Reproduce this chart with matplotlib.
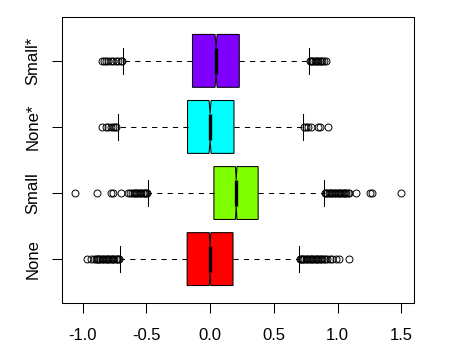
import numpy as np
import matplotlib.pyplot as plt

plt.rcParams['font.family'] = ['Liberation Sans', 'DejaVu Sans']

# groups bottom to top
labels = ['None', 'Small', 'None*', 'Small*']
colors = ['#FF0000', '#80FF00', '#00FFFF', '#8000FF']

# box statistics
q1 = [-0.18, 0.03, -0.177, -0.138]
med = [0.0, 0.205, 0.0, 0.047]
q3 = [0.18, 0.377, 0.1875, 0.229]
whislo = [-0.71, -0.487, -0.724, -0.685]
whishi = [0.70, 0.893, 0.729, 0.773]
notch_half = [0.006, 0.006, 0.008, 0.008]

fliers_none = [-0.969, -0.938, -0.911, -0.898, -0.89, -0.88, -0.87, -0.86, -0.85,
               -0.84, -0.83, -0.82, -0.81, -0.80, -0.79, -0.78, -0.77, -0.76,
               -0.75, -0.74, -0.73, -0.72, -0.715,
               0.705, 0.71, 0.72, 0.73, 0.74, 0.75, 0.76, 0.77, 0.78, 0.79, 0.80,
               0.81, 0.82, 0.83, 0.84, 0.85, 0.86, 0.87, 0.88, 0.89, 0.90, 0.92,
               0.94, 0.96, 0.99, 1.01, 1.09]
fliers_small = [-1.06, -0.885, -0.78, -0.76, -0.70, -0.64, -0.625, -0.61, -0.60,
                -0.59, -0.58, -0.57, -0.56, -0.55, -0.54, -0.53, -0.52, -0.51,
                -0.50, -0.495,
                0.90, 0.91, 0.92, 0.93, 0.94, 0.95, 0.96, 0.97, 0.98, 0.99, 1.00,
                1.01, 1.02, 1.03, 1.04, 1.05, 1.06, 1.07, 1.08, 1.09, 1.148,
                1.255, 1.27, 1.497]
fliers_nones = [-0.846, -0.82, -0.80, -0.78, -0.76, -0.745, -0.735,
                0.74, 0.755, 0.765, 0.794, 0.846, 0.865, 0.924]
fliers_smalls = [-0.846, -0.83, -0.815, -0.80, -0.78, -0.76, -0.74, -0.72, -0.70, -0.69,
                 0.78, 0.79, 0.80, 0.81, 0.82, 0.83, 0.84, 0.85, 0.86, 0.87,
                 0.88, 0.89, 0.906]
fliers = [fliers_none, fliers_small, fliers_nones, fliers_smalls]

stats = []
for i in range(4):
    stats.append(dict(med=med[i], q1=q1[i], q3=q3[i], whislo=whislo[i],
                      whishi=whishi[i], fliers=fliers[i],
                      cilo=med[i] - notch_half[i], cihi=med[i] + notch_half[i]))

fig = plt.figure(figsize=(4.52, 3.52), dpi=100)
ax = fig.add_axes([0.1365, 0.140, 0.7795, 0.811])

bp = ax.bxp(stats, positions=[1, 2, 3, 4], widths=0.8, capwidths=0.4,
            orientation='horizontal', shownotches=True, patch_artist=True,
            boxprops=dict(edgecolor='black', linewidth=0.75),
            whiskerprops=dict(color='black', linewidth=0.75, dashes=(5, 5)),
            capprops=dict(color='black', linewidth=0.75),
            medianprops=dict(color='black', linewidth=2.4, solid_capstyle='butt'),
            flierprops=dict(marker='o', markerfacecolor='none', markeredgecolor='black',
                            markersize=5, markeredgewidth=0.7))
for patch, c in zip(bp['boxes'], colors):
    patch.set_facecolor(c)

ax.set_xlim(-1.164, 1.60)
ax.set_ylim(0.34, 4.66)
ax.set_xticks([-1.0, -0.5, 0.0, 0.5, 1.0, 1.5])
ax.set_xticklabels(['-1.0', '-0.5', '0.0', '0.5', '1.0', '1.5'])
ax.set_yticks([1, 2, 3, 4])
ax.set_yticklabels(labels, rotation=90, va='center')
ax.tick_params(labelsize=12, length=7.2, width=0.75)
ax.tick_params(axis='x', pad=11)
ax.tick_params(axis='y', pad=8)
for s in ax.spines.values():
    s.set_linewidth(0.75)

fig.savefig('out.png', dpi=100)
